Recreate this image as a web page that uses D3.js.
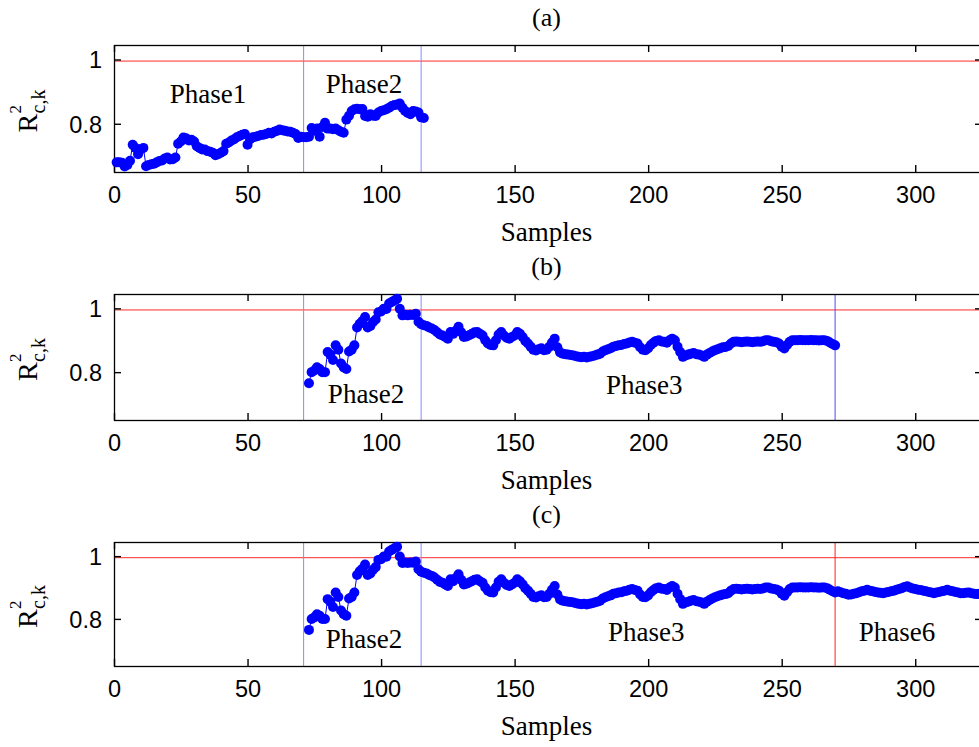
<!DOCTYPE html>
<html><head><meta charset="utf-8">
<script src="https://cdn.jsdelivr.net/npm/d3@7"></script>
<style>body{margin:0;background:#fff;overflow:hidden} svg{display:block}</style>
</head><body><svg id="chart" width="979" height="747"></svg>
<script>
// ---------- data ----------
const xTicks = [0, 50, 100, 150, 200, 250, 300];
const yTicks = [0.8, 1];
const yTickLabels = ["0.8", "1"];
const xDomain = [0, 325];
const yDomain = [0.65, 1.045];
const threshold = 0.995;

// panel (a): samples 1..116
const startA = 1;
const valuesA = [
0.680,0.680,0.679,0.667,0.672,0.685,0.735,0.725,0.705,0.720,
0.725,0.668,0.672,0.674,0.676,0.680,0.684,0.686,0.692,0.695,
0.689,0.690,0.695,0.738,0.745,0.757,0.755,0.748,0.750,0.745,
0.730,0.725,0.720,0.720,0.715,0.713,0.710,0.702,0.705,0.710,
0.715,0.738,0.742,0.748,0.752,0.758,0.762,0.766,0.768,0.735,
0.752,0.758,0.760,0.762,0.765,0.766,0.768,0.772,0.770,0.775,
0.778,0.782,0.780,0.778,0.776,0.775,0.772,0.768,0.756,0.760,
0.758,0.758,0.760,0.787,0.778,0.785,0.760,0.790,0.803,0.785,
0.785,0.783,0.785,0.780,0.775,0.772,0.813,0.825,0.840,0.845,
0.847,0.845,0.846,0.824,0.822,0.830,0.825,0.824,0.835,0.840,
0.842,0.845,0.850,0.855,0.858,0.860,0.863,0.850,0.840,0.834,
0.830,0.840,0.838,0.835,0.820,0.818];

// panels (b) and (c): samples 73..270
const startB = 73;
const valuesB = [
0.765,0.800,0.805,0.815,0.810,0.800,0.800,0.863,0.855,0.838,
0.884,0.870,0.827,0.815,0.810,0.865,0.870,0.884,0.940,0.952,
0.960,0.973,0.940,0.945,0.957,0.965,0.988,0.990,0.999,0.998,
1.015,1.020,1.025,1.030,0.999,0.978,0.980,0.978,0.980,0.979,
0.983,0.958,0.950,0.947,0.945,0.940,0.937,0.932,0.925,0.918,
0.915,0.910,0.905,0.926,0.920,0.930,0.942,0.925,0.910,0.912,
0.916,0.920,0.925,0.926,0.920,0.915,0.900,0.890,0.885,0.884,
0.900,0.918,0.926,0.915,0.908,0.905,0.910,0.915,0.926,0.920,
0.910,0.898,0.890,0.880,0.870,0.868,0.872,0.875,0.869,0.870,
0.880,0.893,0.905,0.878,0.862,0.858,0.856,0.855,0.854,0.852,
0.850,0.848,0.847,0.848,0.846,0.848,0.850,0.852,0.855,0.858,
0.865,0.869,0.872,0.875,0.880,0.882,0.884,0.885,0.888,0.890,
0.893,0.895,0.892,0.890,0.878,0.870,0.869,0.875,0.885,0.892,
0.898,0.900,0.896,0.895,0.892,0.900,0.905,0.900,0.880,0.863,
0.848,0.852,0.855,0.858,0.860,0.856,0.855,0.852,0.848,0.855,
0.860,0.865,0.869,0.872,0.875,0.878,0.879,0.882,0.890,0.895,
0.896,0.895,0.894,0.895,0.896,0.895,0.894,0.895,0.896,0.895,
0.897,0.900,0.900,0.897,0.895,0.894,0.890,0.880,0.874,0.885,
0.895,0.900,0.900,0.900,0.901,0.900,0.900,0.900,0.901,0.900,
0.900,0.899,0.900,0.900,0.898,0.893,0.888,0.884];

// panel (c) continuation: samples 271..326
const startC2 = 271;
const valuesC2 = [
0.888,0.885,0.882,0.880,0.877,0.878,0.880,0.882,0.885,0.888,
0.890,0.893,0.890,0.888,0.886,0.884,0.883,0.882,0.884,0.886,
0.888,0.890,0.893,0.895,0.898,0.902,0.904,0.900,0.897,0.895,
0.893,0.892,0.890,0.888,0.886,0.884,0.882,0.884,0.886,0.888,
0.890,0.893,0.890,0.888,0.886,0.884,0.882,0.882,0.883,0.884,
0.882,0.880,0.879,0.880,0.878,0.876];

const phaseBounds = [71, 115, 270];
const titles = ["(a)", "(b)", "(c)"];
const phaseLabelsA = [{t:"Phase1", s:35.2, v:0.865}, {t:"Phase2", s:93.6, v:0.896}];
const phaseLabelsB = [{t:"Phase2", s:94.4, v:0.704}, {t:"Phase3", s:198.5, v:0.733}];
const phaseLabelsC = [{t:"Phase2", s:93.6, v:0.706}, {t:"Phase3", s:199.3, v:0.729}, {t:"Phase6", s:293.2, v:0.729}];

const toPts = (start, vals) => vals.map((v, i) => ({s: start + i, v}));
const seriesA = toPts(startA, valuesA);
const seriesB = toPts(startB, valuesB);
const seriesC = seriesB.concat(toPts(startC2, valuesC2));

// ---------- layout ----------
const svg = d3.select("#chart");
const left = 114, right = 982;
const lightBlue = "#8888ff";
const panels = [
  {top:45, bottom:172, title:titles[0], data:seriesA, labels:phaseLabelsA,
   vlines:[{x:phaseBounds[0], c:lightBlue},{x:phaseBounds[1], c:lightBlue}]},
  {top:294, bottom:420, title:titles[1], data:seriesB, labels:phaseLabelsB,
   vlines:[{x:phaseBounds[0], c:lightBlue},{x:phaseBounds[1], c:lightBlue},{x:phaseBounds[2], c:"#4a4aff"}]},
  {top:542, bottom:666, title:titles[2], data:seriesC, labels:phaseLabelsC,
   vlines:[{x:phaseBounds[0], c:lightBlue},{x:phaseBounds[1], c:lightBlue},{x:phaseBounds[2], c:"#ff2020"}]}
];

const serif = "'Liberation Serif','Times New Roman',Times,serif";
const sans = "'Liberation Sans',Arial,Helvetica,sans-serif";

panels.forEach(p => {
  const x = d3.scaleLinear().domain(xDomain).range([left, right]);
  const y = d3.scaleLinear().domain(yDomain).range([p.bottom, p.top]);
  const g = svg.append("g");

  g.append("rect").attr("x", left).attr("y", p.top)
    .attr("width", right - left).attr("height", p.bottom - p.top).attr("fill", "#fff");

  g.append("line").attr("x1", left).attr("x2", right)
    .attr("y1", y(threshold)).attr("y2", y(threshold))
    .attr("stroke", "#ff2a2a").attr("stroke-width", 1);

  p.vlines.forEach(l => {
    g.append("line").attr("x1", x(l.x)).attr("x2", x(l.x))
      .attr("y1", p.top).attr("y2", p.bottom)
      .attr("stroke", l.c).attr("stroke-width", 1);
  });

  const tickLen = 7;
  const bottomAxis = d3.axisBottom(x).tickValues(xTicks).tickSize(-tickLen).tickFormat(d3.format("d"));
  const topAxis = d3.axisTop(x).tickValues(xTicks).tickSize(-tickLen).tickFormat("");
  const leftAxis = d3.axisLeft(y).tickValues(yTicks).tickSize(-tickLen)
    .tickFormat((d, i) => yTickLabels[i]);
  const rightAxis = d3.axisRight(y).tickValues(yTicks).tickSize(-tickLen).tickFormat("");

  const styleAxis = sel => {
    sel.select(".domain").remove();
    sel.selectAll(".tick line").attr("stroke", "#000").attr("stroke-width", 1.4);
    sel.selectAll(".tick text").attr("fill", "#000").style("font-family", sans).style("font-size", "23.5px");
  };
  g.append("g").attr("transform", `translate(0,${p.bottom})`).call(bottomAxis).call(styleAxis)
    .selectAll(".tick text").attr("dy", null).attr("y", 31);
  g.append("g").attr("transform", `translate(0,${p.top})`).call(topAxis).call(styleAxis);
  g.append("g").attr("transform", `translate(${left},0)`).call(leftAxis).call(styleAxis)
    .selectAll(".tick text").attr("x", -12).attr("dy", "0.36em");
  g.append("g").attr("transform", `translate(${right},0)`).call(rightAxis).call(styleAxis);

  g.append("rect").attr("x", left + 0.5).attr("y", p.top + 0.5)
    .attr("width", right - left).attr("height", p.bottom - p.top)
    .attr("fill", "none").attr("stroke", "#000").attr("stroke-width", 1.3);

  const line = d3.line().x(d => x(d.s)).y(d => y(d.v));
  g.append("path").datum(p.data).attr("d", line)
    .attr("fill", "none").attr("stroke", "#0000ff").attr("stroke-width", 1);
  g.selectAll("circle.pt").data(p.data).join("circle").attr("class", "pt")
    .attr("cx", d => x(d.s)).attr("cy", d => y(d.v)).attr("r", 5)
    .attr("fill", "#0000ff");

  p.labels.forEach(l => {
    g.append("text").attr("x", x(l.s)).attr("y", y(l.v))
      .attr("text-anchor", "middle").style("font-family", serif).style("font-size", "27px")
      .text(l.t);
  });

  const cx = (left + 979) / 2;
  g.append("text").attr("x", cx).attr("y", p.top - 19)
    .attr("text-anchor", "middle").style("font-family", serif).style("font-size", "26px")
    .text(p.title);

  g.append("text").attr("x", cx).attr("y", p.bottom + 69)
    .attr("text-anchor", "middle").style("font-family", serif).style("font-size", "27px")
    .text("Samples");

  const cy = (p.top + p.bottom) / 2 + 2;
  const yl = g.append("g").attr("transform", `translate(37,${cy}) rotate(-90)`)
    .style("font-family", serif);
  yl.append("text").attr("x", -22).attr("y", 0).style("font-size", "28px").text("R");
  yl.append("text").attr("x", -3).attr("y", -16).style("font-size", "17px").text("2");
  yl.append("text").attr("x", -3).attr("y", 8).style("font-size", "20px").text("c,k");
});
</script></body></html>
